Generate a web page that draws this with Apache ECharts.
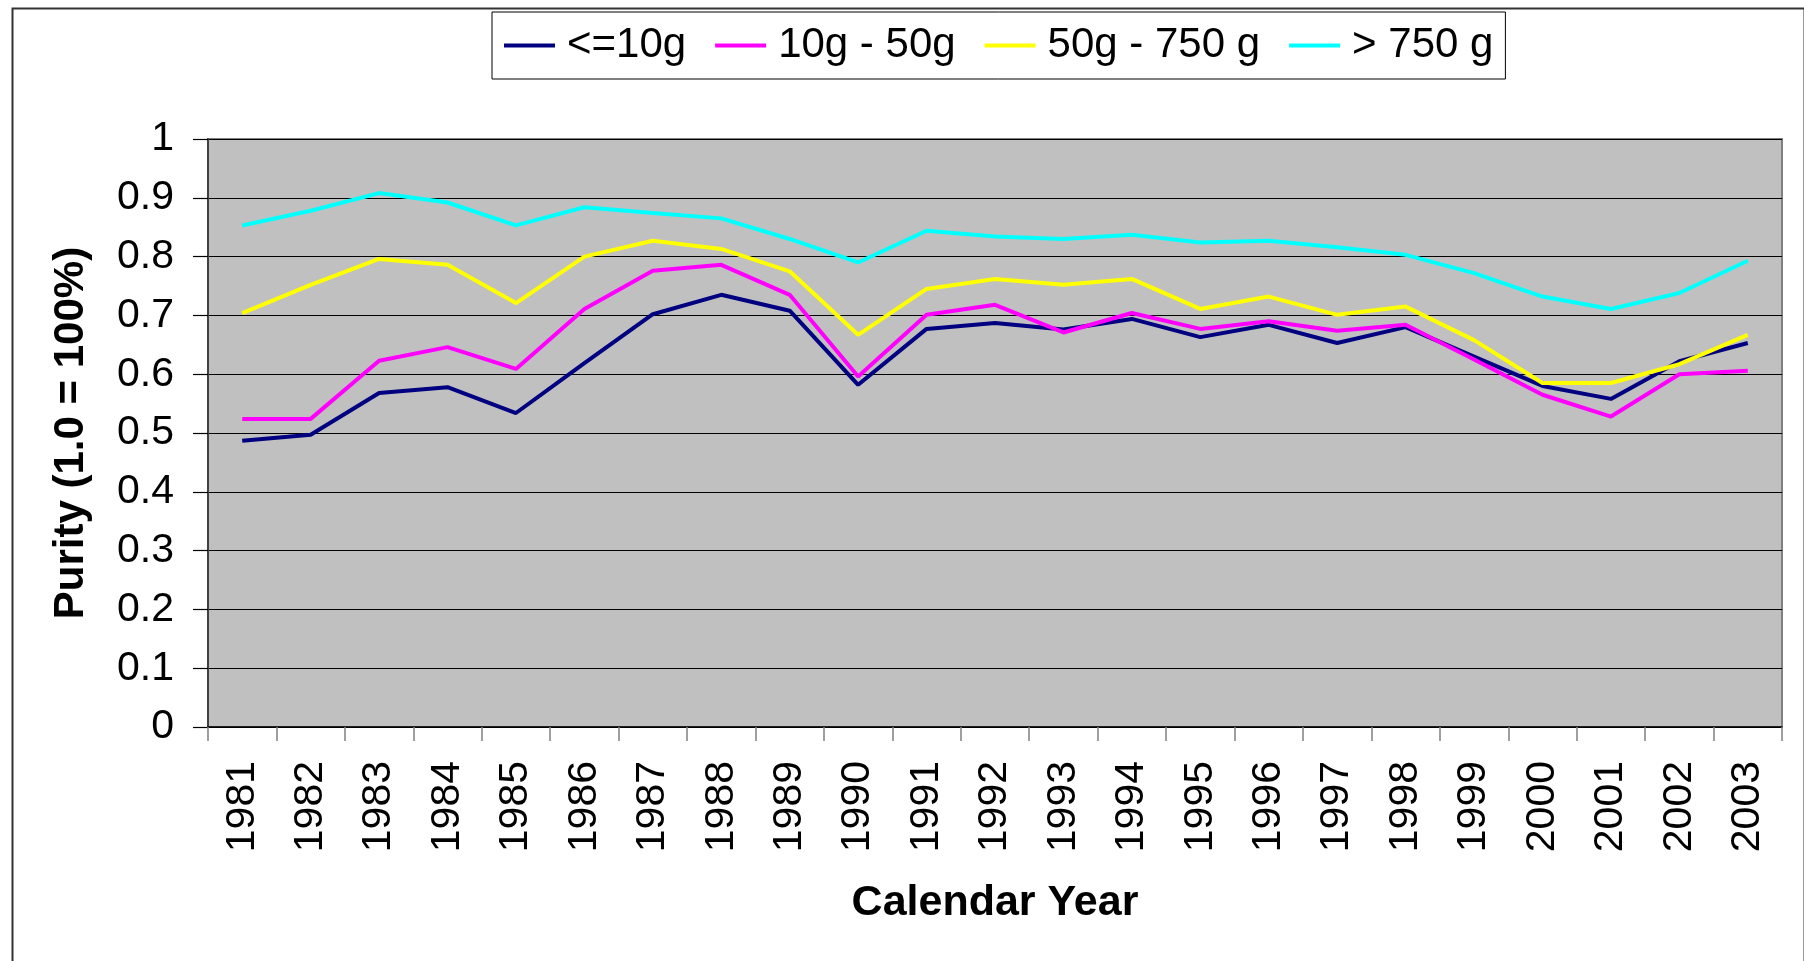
<!DOCTYPE html>
<html>
<head>
<meta charset="utf-8">
<title>Purity by Calendar Year</title>
<script src="https://cdn.jsdelivr.net/npm/echarts@6/dist/echarts.min.js"></script>
<style>
  html, body { margin: 0; padding: 0; background: #fff; }
  #chart { width: 1804px; height: 961px; }
</style>
</head>
<body>
<div id="chart"></div>
<script>
// Calendar years on the category axis
const years = ['1981','1982','1983','1984','1985','1986','1987','1988','1989','1990','1991','1992',
               '1993','1994','1995','1996','1997','1998','1999','2000','2001','2002','2003'];

// Purity by seizure size (1.0 = 100%)
const upTo10g = [0.487,0.497,0.568,0.578,0.534,0.619,0.702,0.735,0.708,0.582,0.677,0.687,
                 0.676,0.694,0.663,0.684,0.653,0.680,0.630,0.580,0.558,0.622,0.653];
const g10to50 = [0.524,0.524,0.623,0.646,0.609,0.711,0.776,0.786,0.735,0.596,0.701,0.718,
                 0.671,0.704,0.677,0.690,0.674,0.684,0.625,0.565,0.528,0.600,0.606];
const g50to750 = [0.704,0.752,0.796,0.786,0.721,0.800,0.827,0.813,0.775,0.667,0.745,0.762,
                  0.752,0.762,0.711,0.732,0.701,0.715,0.658,0.585,0.585,0.617,0.667];
const over750g = [0.853,0.878,0.908,0.892,0.853,0.884,0.874,0.865,0.830,0.790,0.844,0.834,
                  0.830,0.837,0.824,0.827,0.816,0.803,0.772,0.732,0.711,0.738,0.793];

const seriesNames = ['<=10g', '10g - 50g', '50g - 750 g', '> 750 g'];
const seriesData = [upTo10g, g10to50, g50to750, over750g];
const seriesColors = ['#000080', '#FF00FF', '#FFFF00', '#00FFFF'];

// Y axis ticks 0 .. 1 by 0.1
const yMin = 0, yMax = 1, yStep = 0.1;

const FONT = '"Liberation Sans", Arial, sans-serif';

const chart = echarts.init(document.getElementById('chart'), null, { renderer: 'canvas' });

chart.setOption({
  backgroundColor: '#ffffff',
  animation: false,
  textStyle: { fontFamily: FONT },
  graphic: [{
    type: 'rect',
    left: 10, top: 6,
    shape: { width: 1792, height: 1000 },
    style: { fill: 'none', stroke: '#333333', lineWidth: 2 },
    silent: true
  }],
  legend: {
    left: 492, top: 12,
    orient: 'horizontal',
    icon: 'rect',
    itemWidth: 51, itemHeight: 4,
    itemGap: 29,
    padding: [8, 12, 8, 12],
    backgroundColor: '#ffffff',
    borderColor: '#000000', borderWidth: 1,
    borderRadius: 0,
    textStyle: { fontFamily: FONT, fontSize: 42, color: '#000', lineHeight: 51, padding: [0, 0, 0, 7] },
    data: seriesNames
  },
  grid: {
    left: 208, right: 22, top: 139, bottom: 234,
    show: true,
    backgroundColor: '#C0C0C0',
    borderColor: '#808080', borderWidth: 2
  },
  xAxis: {
    type: 'category',
    data: years,
    boundaryGap: true,
    name: 'Calendar Year',
    nameLocation: 'middle',
    nameGap: 155,
    nameTextStyle: { fontFamily: FONT, fontSize: 43, fontWeight: 'bold', color: '#000' },
    axisLine: { show: true, lineStyle: { color: '#000', width: 1.5 } },
    axisTick: { show: true, alignWithLabel: false, length: 14, lineStyle: { color: '#808080', width: 1.5 } },
    axisLabel: { rotate: 90, margin: 34, fontFamily: FONT, fontSize: 41, color: '#000', interval: 0 },
    splitLine: { show: false }
  },
  yAxis: {
    type: 'value',
    min: yMin, max: yMax, interval: yStep,
    name: 'Purity (1.0 = 100%)',
    nameLocation: 'middle',
    nameGap: 116,
    nameRotate: 90,
    nameTextStyle: { fontFamily: FONT, fontSize: 42, fontWeight: 'bold', color: '#000' },
    axisLine: { show: true, lineStyle: { color: '#404040', width: 2 } },
    axisTick: { show: true, length: 15, lineStyle: { color: '#000', width: 1.2 } },
    axisLabel: {
      margin: 34, fontFamily: FONT, fontSize: 41, color: '#000',
      formatter: v => (Math.round(v * 10) / 10).toString()
    },
    splitLine: { show: true, lineStyle: { color: '#000', width: 1.2 } }
  },
  series: seriesNames.map((name, i) => ({
    name: name,
    type: 'line',
    data: seriesData[i],
    symbol: 'none',
    smooth: false,
    color: seriesColors[i],
    lineStyle: { color: seriesColors[i], width: 4 },
    z: 2 + i
  }))
});
</script>
</body>
</html>
